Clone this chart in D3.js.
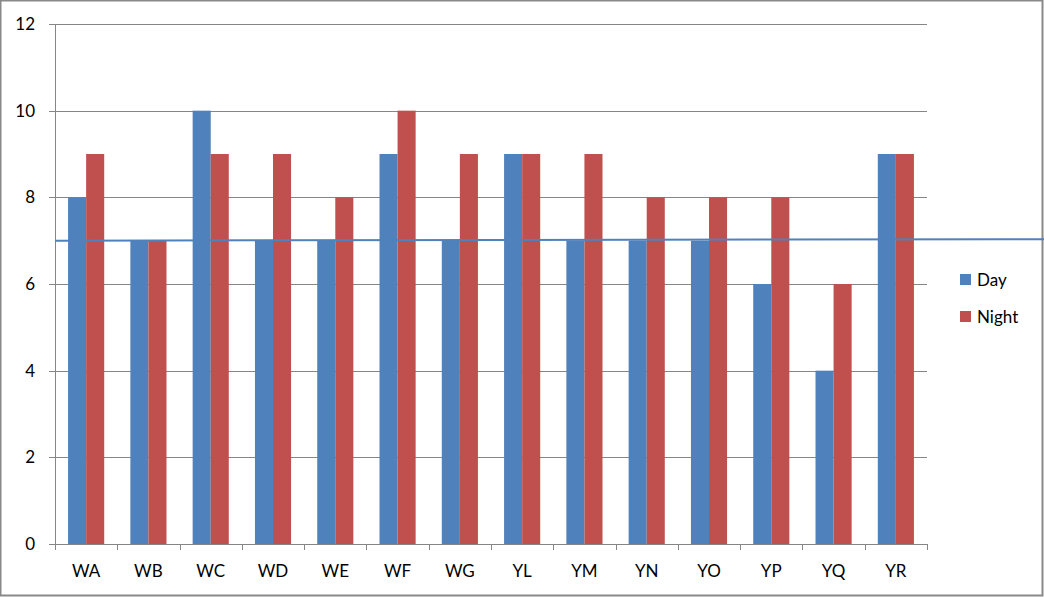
<!DOCTYPE html>
<html><head><meta charset="utf-8">
<script src="https://cdn.jsdelivr.net/npm/d3@7"></script>
<style>body{margin:0;background:#fff}svg{display:block}text{font-family:Lato,"Liberation Sans",sans-serif}</style>
</head><body><svg id="c" width="1044" height="597"></svg>
<script>
const categories=["WA","WB","WC","WD","WE","WF","WG","YL","YM","YN","YO","YP","YQ","YR"];
const dayValues=[8,7,10,7,7,9,7,9,7,7,7,6,4,9];
const nightValues=[9,7,9,9,8,10,9,9,9,8,8,8,6,9];
const yTicks=[0,2,4,6,8,10,12];
const seriesNames=["Day","Night"];
const seriesColors=["#4f81bd","#c0504d"];
const refLine=[7,7.035];

const W=1044,H=597;
const m={l:55,r:117,t:24,b:53};
const svg=d3.select("#c");
svg.append("rect").attr("x",0.5).attr("y",0.5).attr("width",W-2).attr("height",H-2)
  .attr("fill","#fff").attr("stroke","#898989").attr("stroke-width",2);
const x=d3.scaleBand().domain(categories).range([m.l,W-m.r]);
const y=d3.scaleLinear().domain([0,12]).range([H-m.b,m.t]);
const g=svg.append("g");
// gridlines
g.selectAll(".grid").data(yTicks).join("line")
  .attr("x1",m.l-6).attr("x2",W-m.r).attr("y1",d=>Math.round(y(d))+0.5).attr("y2",d=>Math.round(y(d))+0.5)
  .attr("stroke","#868686").attr("stroke-width",1);
g.selectAll(".yl").data(yTicks).join("text")
  .attr("x",35).attr("y",d=>y(d)+6).attr("text-anchor","end").attr("font-size",17).attr("fill","#000").text(d=>d);
// bars
const bw=x.bandwidth()*0.29;
const series=[dayValues,nightValues];
series.forEach((vals,si)=>{
  g.selectAll(".b"+si).data(vals).join("rect")
    .attr("x",(d,i)=>x(categories[i])+x.bandwidth()/2+(si-1)*bw)
    .attr("y",d=>y(d)).attr("width",bw).attr("height",d=>y(0)-y(d))
    .attr("fill",seriesColors[si]);
});
// axes lines
g.append("line").attr("x1",m.l+0.5).attr("x2",m.l+0.5).attr("y1",m.t).attr("y2",H-m.b).attr("stroke","#868686");
g.append("line").attr("x1",m.l-6).attr("x2",W-m.r).attr("y1",Math.round(y(0))+0.5).attr("y2",Math.round(y(0))+0.5).attr("stroke","#868686");
const bounds=categories.map(c=>x(c)).concat([W-m.r]);
g.selectAll(".xt").data(bounds).join("line")
  .attr("x1",d=>Math.round(d)+0.5).attr("x2",d=>Math.round(d)+0.5)
  .attr("y1",y(0)).attr("y2",y(0)+6).attr("stroke","#868686");
g.selectAll(".xl").data(categories).join("text")
  .attr("x",d=>x(d)+x.bandwidth()/2).attr("y",577).attr("text-anchor","middle")
  .attr("font-size",17).attr("fill","#000").text(d=>d);
// reference line
g.append("line").attr("x1",m.l).attr("x2",W).attr("y1",y(refLine[0])).attr("y2",y(refLine[1]))
  .attr("stroke","#4f81bd").attr("stroke-width",2);
// legend
seriesNames.forEach((n,i)=>{
  const ly=274+i*37;
  g.append("rect").attr("x",960).attr("y",ly).attr("width",11).attr("height",11).attr("fill",seriesColors[i]);
  g.append("text").attr("x",977).attr("y",ly+12).attr("font-size",17).attr("fill","#000").text(n);
});
</script></body></html>
